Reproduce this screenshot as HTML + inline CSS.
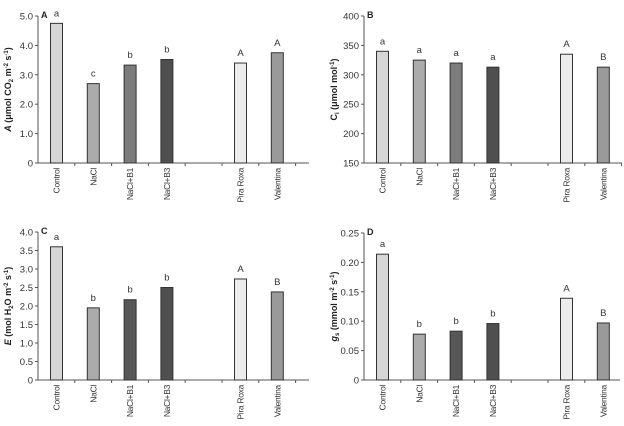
<!DOCTYPE html>
<html><head><meta charset="utf-8"><style>
body{margin:0;background:#fff;}
svg{display:block;font-family:"Liberation Sans",sans-serif;}
</style></head><body>
<svg id="c" width="624" height="426"></svg>
<script>
const categories=["Control","NaCl","NaCl+B1","NaCl+B3","Pira Roxa","Valentina"];
const slots=[0,1,2,3,5,6];
const valuesA=[4.75,2.7,3.33,3.52,3.4,3.75];
const lettersA=["a","c","b","b","A","A"];
const ticksA=["0","1.0","2.0","3.0","4.0","5.0"];
const valuesB=[340,325,320,313,335,313];
const lettersB=["a","a","a","a","A","B"];
const ticksB=["150","200","250","300","350","400"];
const valuesC=[3.6,1.95,2.17,2.5,2.73,2.38];
const lettersC=["a","b","b","b","A","B"];
const ticksC=["0","0.5","1.0","1.5","2.0","2.5","3.0","3.5","4.0"];
const valuesD=[0.214,0.078,0.083,0.096,0.139,0.097];
const lettersD=["a","b","b","b","A","B"];
const ticksD=["0","0.05","0.10","0.15","0.20","0.25"];
const colorsAB=["#d6d6d6","#ababab","#7c7c7c","#4f4f4f","#ececec","#9a9a9a"];
const colorsCD=["#d6d6d6","#ababab","#575757","#4f4f4f","#ececec","#9a9a9a"];
const NS="http://www.w3.org/2000/svg";
const svg=document.getElementById('c');
function mk(t,a,p){const e=document.createElementNS(NS,t);for(const k in a)e.setAttribute(k,a[k]);(p||svg).appendChild(e);return e;}
function panel(o){
  const g=mk('g',{});
  
  
  const ymin=parseFloat(o.ticks[0]),ymax=parseFloat(o.ticks[o.ticks.length-1]);
  const y=v=>o.y0-(v-ymin)/(ymax-ymin)*(o.y0-o.y1);
  const x=s=>o.x0+18.5+s*36.8;
  const ax=mk('line',{x1:o.x0,y1:o.y0,x2:o.xe,y2:o.y0,stroke:'#555','stroke-width':1},g);
  
  const ay=mk('line',{x1:o.x0,y1:o.y0,x2:o.x0,y2:o.y1,stroke:'#555','stroke-width':1},g);
  
  o.ticks.forEach(t=>{const v=parseFloat(t),yy=y(v);
    mk('line',{x1:o.x0-3,y1:yy,x2:o.x0,y2:yy,stroke:'#555'},g);
    const tl=mk('text',{x:o.x0-5,y:yy+3.5,'font-size':9.5,'text-anchor':'end',fill:'#333'},g);tl.textContent=t;
    });
  for(let s=1;s<=7;s++){const xx=o.x0+s*36.8;if(xx<o.xe)mk('line',{x1:xx,y1:o.y0,x2:xx,y2:o.y0+3,stroke:'#555'},g);}
  o.vals.forEach((v,i)=>{const cx=x(slots[i]);
    const r=mk('rect',{x:cx-6,y:y(v),width:12,height:o.y0-y(v),fill:o.colors[i],stroke:'#333','stroke-width':1},g);
    
    
    const l=mk('text',{x:cx,y:y(v)-7,'font-size':9.5,'text-anchor':'middle',fill:'#333'},g);l.textContent=o.letters[i];
    
    const c=mk('text',{x:0,y:0,'font-size':8.5,'letter-spacing':-0.3,'text-anchor':'end',fill:'#333',transform:`translate(${cx+3},${o.y0+5}) rotate(-90)`},g);c.textContent=categories[i];
    });
  const pl=mk('text',{x:o.x0+3,y:o.y1+2,'font-size':9,'font-weight':'bold',fill:'#222'},g);pl.textContent=o.id;
  
  const yt=mk('text',{x:0,y:0,'font-size':9,'font-weight':'bold','text-anchor':'middle',fill:'#222',transform:`translate(${o.x0-27},${(o.y0+o.y1)/2}) rotate(-90)`},g);
  yt.innerHTML=o.title;
  
}
panel({id:'A',x0:38,xe:309,y0:163,y1:16,ticks:ticksA,vals:valuesA,letters:lettersA,colors:colorsAB,
 title:'<tspan font-style="italic">A</tspan> (μmol CO<tspan font-size="6" dy="2">2</tspan><tspan dy="-2"> m</tspan><tspan font-size="6" dy="-3">-2</tspan><tspan dy="3"> s</tspan><tspan font-size="6" dy="-3">-1</tspan><tspan dy="3">)</tspan>'});
panel({id:'B',x0:364,xe:622,y0:163,y1:16,ticks:ticksB,vals:valuesB,letters:lettersB,colors:colorsAB,
 title:'C<tspan font-size="6" dy="2">i</tspan><tspan dy="-2"> (μmol mol</tspan><tspan font-size="6" dy="-3">-1</tspan><tspan dy="3">)</tspan>'});
panel({id:'C',x0:38,xe:309,y0:380,y1:232,ticks:ticksC,vals:valuesC,letters:lettersC,colors:colorsCD,
 title:'<tspan font-style="italic">E</tspan> (mol H<tspan font-size="6" dy="2">2</tspan><tspan dy="-2">O m</tspan><tspan font-size="6" dy="-3">-2</tspan><tspan dy="3"> s</tspan><tspan font-size="6" dy="-3">-1</tspan><tspan dy="3">)</tspan>'});
panel({id:'D',x0:364,xe:620,y0:380,y1:233,ticks:ticksD,vals:valuesD,letters:lettersD,colors:colorsCD,
 title:'<tspan font-style="italic">g</tspan><tspan font-size="6" dy="2">s</tspan><tspan dy="-2"> (mmol m</tspan><tspan font-size="6" dy="-3">-2</tspan><tspan dy="3"> s</tspan><tspan font-size="6" dy="-3">-1</tspan><tspan dy="3">)</tspan>'});
</script>
</body></html>
